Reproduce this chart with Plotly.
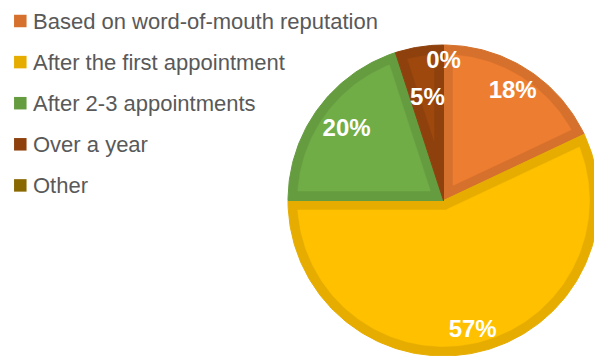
import numpy as np
import plotly.graph_objects as go

# Survey answers and their shares (%)
categories = [
    "Based on word-of-mouth reputation",
    "After the first appointment",
    "After 2-3 appointments",
    "Over a year",
    "Other",
]
shares = [18, 57, 20, 5, 0]

# Slice colours: light fill and darker inner rim
fill_colors = ["#ED7D31", "#FFC000", "#70AD47", "#9E480E", "#997300"]
edge_colors = ["#D5712C", "#E6AD00", "#659C40", "#8E410D", "#8A6800"]

# Radial position of each percentage label, as a fraction of the radius
label_radius = [0.83, 0.86, 0.77, 0.66, 0.89]

W, H = 594, 356
CX, CY, R = 443.5, 200.5, 155.5   # pie centre and radius in pixel units
RIM = 9.5                         # width of the darker inner rim
FONT = "Liberation Sans, Arial, sans-serif"


def polar_pt(r, ang_deg):
    """Point at radius r, angle measured clockwise from 12 o'clock."""
    a = np.radians(ang_deg)
    return CX + r * np.sin(a), CY - r * np.cos(a)


def arc(r, a0, a1, n=None):
    if n is None:
        n = max(int(abs(a1 - a0) / 1.0) + 2, 3)
    angs = np.linspace(a0, a1, n)
    xs, ys = polar_pt(r, angs)
    return list(xs), list(ys)


total = float(sum(shares))
ends = np.cumsum(shares) / total * 360.0
starts = ends - np.array(shares) / total * 360.0

fig = go.Figure()

# Dark full sectors (these become the rim of each slice)
for v, a0, a1, ec, name in zip(shares, starts, ends, edge_colors, categories):
    if v <= 0:
        continue
    ax, ay = arc(R, a0, a1)
    fig.add_trace(go.Scatter(
        x=[CX] + ax + [CX], y=[CY] + ay + [CY],
        mode="lines", fill="toself", fillcolor=ec,
        line=dict(color=ec, width=1), hoverinfo="skip", name=name,
        showlegend=False,
    ))

# Lighter inner fill, inset from every edge of the slice
r_in = R - RIM
d_ang = np.degrees(np.arcsin(RIM / r_in))
for v, a0, a1, fc in zip(shares, starts, ends, fill_colors):
    span = a1 - a0
    if v <= 0 or span <= 2 * d_ang:
        continue
    half = np.radians(span / 2.0)
    apex_r = RIM / np.sin(half)
    if apex_r >= r_in:
        continue
    px, py = polar_pt(apex_r, (a0 + a1) / 2.0)
    ax, ay = arc(r_in, a0 + d_ang, a1 - d_ang)
    fig.add_trace(go.Scatter(
        x=[px] + ax + [px], y=[py] + ay + [py],
        mode="lines", fill="toself", fillcolor=fc,
        line=dict(color=fc, width=0.5), hoverinfo="skip",
        showlegend=False,
    ))

# Percentage labels at the middle angle of each slice
mids = (starts + ends) / 2.0
lx, ly = polar_pt(np.array(label_radius) * R, mids)
fig.add_trace(go.Scatter(
    x=lx, y=ly, mode="text",
    text=[f"{v}%" for v in shares],
    textposition="middle center",
    textfont=dict(family=FONT, size=24, color="white", weight="bold"),
    hoverinfo="skip", showlegend=False,
))

# Legend: coloured squares with category names
row0, row_step = 21.0, 41.1
rows = [row0 + i * row_step for i in range(len(categories))]
fig.add_trace(go.Scatter(
    x=[20.3] * len(categories), y=rows, mode="markers",
    marker=dict(symbol="square", size=12.5, color=edge_colors, line=dict(width=0)),
    hoverinfo="skip", showlegend=False,
))
for name, y in zip(categories, rows):
    fig.add_annotation(
        x=31, y=y, xref="x", yref="y", text=name, showarrow=False,
        xanchor="left", yanchor="middle",
        font=dict(family=FONT, size=22, color="#595959"),
    )

fig.update_layout(
    width=W, height=H,
    margin=dict(l=0, r=0, t=0, b=0),
    paper_bgcolor="white", plot_bgcolor="white",
    xaxis=dict(range=[0, W], visible=False, fixedrange=True),
    yaxis=dict(range=[H, 0], visible=False, fixedrange=True),
    showlegend=False,
)

fig.write_html("out.html")
